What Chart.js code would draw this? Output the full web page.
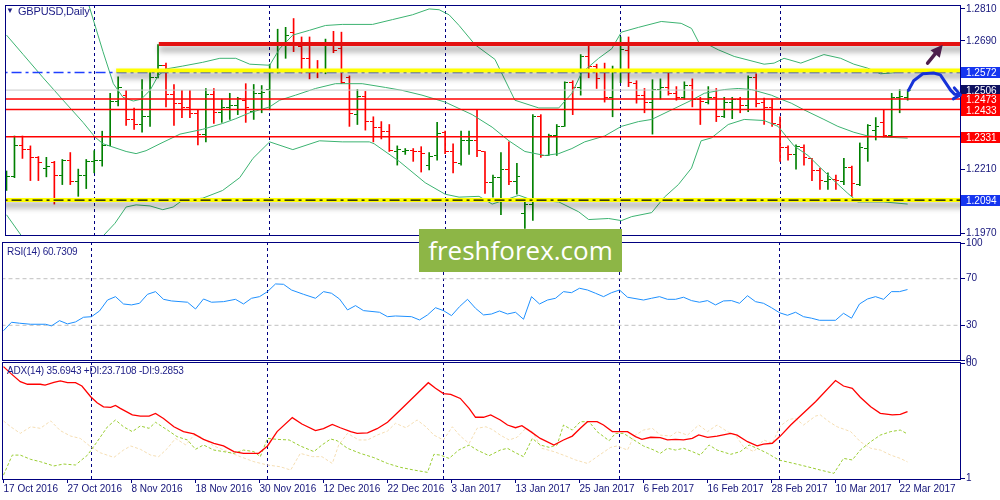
<!DOCTYPE html>
<html><head><meta charset="utf-8">
<script src="https://cdn.jsdelivr.net/npm/chart.js@4.4.1/dist/chart.umd.min.js"></script>
<style>
html,body{margin:0;padding:0;background:#fff;}
#wrap{position:relative;width:1000px;height:500px;overflow:hidden;background:#fff;}
#wrap canvas{position:absolute;left:0;}
.t{position:absolute;font-family:"Liberation Sans",Arial,sans-serif;font-size:10px;color:#1c1c86;white-space:nowrap;line-height:12px;letter-spacing:-0.2px;}
#wm{position:absolute;left:419px;top:229px;width:203px;height:43px;background:#8db646;color:#fff;font-family:"Open Sans",sans-serif;font-size:26px;line-height:42px;text-align:center;}
</style></head><body>
<div id="wrap">
<canvas id="cMain" width="1000" height="241" style="top:0px"></canvas>
<canvas id="cRsi" width="1000" height="126" style="top:236px"></canvas>
<canvas id="cAdx" width="1000" height="144" style="top:356px"></canvas>
<div class="t" style="left:6px;top:5px;font-size:8px">▼</div>
<div class="t" style="left:18px;top:5px;font-size:11px">GBPUSD,Daily</div>
<div class="t" style="left:7px;top:246px">RSI(14) 60.7309</div>
<div class="t" style="left:7px;top:365px">ADX(14) 35.6943 +DI:23.7108 -DI:9.2853</div>
<div id="wm">freshforex.com</div>
</div>
<script>
// ---------- data ----------
const dateTickIdx=[0,8,16,24,32,40,48,56,64,72,80,88,96,104,112];
const dateLabels=["17 Oct 2016","27 Oct 2016","8 Nov 2016","18 Nov 2016","30 Nov 2016","12 Dec 2016","22 Dec 2016","3 Jan 2017","13 Jan 2017","25 Jan 2017","6 Feb 2017","16 Feb 2017","28 Feb 2017","10 Mar 2017","22 Mar 2017"];
const monthSepIdx=[11,33,55,77,97];
const priceTicks=[1.2810,1.2690,1.2210,1.1970];
const rsiTicks=[0,30,70,100];
const adxTicks=[1,60];

const opens=[1.2174,1.2181,1.2297,1.2283,1.2254,1.2214,1.2236,1.2185,1.2243,1.2163,
1.2185,1.2239,1.2243,1.2297,1.2465,1.2487,1.2396,1.2377,1.2406,1.2552,
1.2599,1.2490,1.2454,1.2439,1.2417,1.2341,1.2490,1.2421,1.2439,1.2447,
1.2468,1.2425,1.2494,1.2508,1.2577,1.2672,1.2723,1.2668,1.2625,1.2581,
1.2577,1.2672,1.2661,1.2552,1.2414,1.2483,1.2388,1.2367,1.2352,1.2276,
1.2276,1.2279,1.2276,1.2225,1.2261,1.2348,1.2276,1.2232,1.2316,1.2319,
1.2276,1.2159,1.2178,1.2210,1.2163,1.2043,1.2079,1.2406,1.2261,1.2334,
1.2370,1.2534,1.2516,1.2632,1.2596,1.2577,1.2479,1.2577,1.2654,1.2530,
1.2487,1.2461,1.2508,1.2516,1.2494,1.2479,1.2523,1.2472,1.2461,1.2479,
1.2406,1.2461,1.2472,1.2450,1.2552,1.2461,1.2439,1.2377,1.2290,1.2265,
1.2290,1.2250,1.2203,1.2163,1.2170,1.2163,1.2217,1.2152,1.2287,1.2356,
1.2385,1.2334,1.2479,1.2479];
const highs=[1.2203,1.2334,1.2334,1.2297,1.2257,1.2254,1.2239,1.2246,1.2272,1.2210,
1.2246,1.2279,1.2352,1.2494,1.2556,1.2505,1.2439,1.2545,1.2581,1.2676,
1.2607,1.2527,1.2505,1.2505,1.2432,1.2512,1.2512,1.2472,1.2494,1.2479,
1.2530,1.2527,1.2523,1.2603,1.2734,1.2741,1.2774,1.2705,1.2705,1.2617,
1.2697,1.2726,1.2723,1.2559,1.2508,1.2501,1.2406,1.2388,1.2377,1.2297,
1.2287,1.2287,1.2294,1.2272,1.2385,1.2352,1.2305,1.2352,1.2352,1.2432,
1.2276,1.2188,1.2272,1.2312,1.2232,1.2097,1.2414,1.2414,1.2341,1.2377,
1.2537,1.2541,1.2639,1.2676,1.2603,1.2607,1.2596,1.2705,1.2705,1.2541,
1.2512,1.2545,1.2548,1.2581,1.2519,1.2537,1.2548,1.2479,1.2519,1.2512,
1.2479,1.2479,1.2479,1.2559,1.2567,1.2476,1.2472,1.2406,1.2297,1.2301,
1.2301,1.2250,1.2214,1.2196,1.2188,1.2250,1.2221,1.2308,1.2377,1.2403,
1.2432,1.2494,1.2508,1.2508];
const lows=[1.2130,1.2178,1.2250,1.2167,1.2167,1.2181,1.2079,1.2152,1.2152,1.2108,
1.2137,1.2196,1.2221,1.2297,1.2447,1.2374,1.2359,1.2348,1.2370,1.2552,
1.2443,1.2374,1.2403,1.2403,1.2301,1.2312,1.2381,1.2385,1.2396,1.2414,
1.2385,1.2396,1.2421,1.2432,1.2570,1.2625,1.2650,1.2570,1.2548,1.2552,
1.2567,1.2646,1.2530,1.2370,1.2377,1.2356,1.2312,1.2323,1.2276,1.2225,
1.2265,1.2239,1.2199,1.2207,1.2243,1.2268,1.2196,1.2225,1.2265,1.2257,
1.2119,1.2105,1.2039,1.2152,1.2116,1.1988,1.2018,1.2254,1.2261,1.2261,
1.2370,1.2414,1.2487,1.2552,1.2512,1.2461,1.2406,1.2534,1.2519,1.2457,
1.2421,1.2341,1.2472,1.2487,1.2468,1.2472,1.2443,1.2377,1.2454,1.2388,
1.2403,1.2399,1.2421,1.2425,1.2443,1.2377,1.2370,1.2239,1.2243,1.2210,
1.2225,1.2167,1.2134,1.2134,1.2134,1.2152,1.2108,1.2148,1.2239,1.2319,
1.2330,1.2330,1.2421,1.2468];
const closes=[1.2181,1.2297,1.2283,1.2254,1.2236,1.2221,1.2185,1.2243,1.2163,1.2185,
1.2239,1.2243,1.2297,1.2465,1.2516,1.2396,1.2377,1.2406,1.2552,1.2599,
1.2490,1.2454,1.2439,1.2417,1.2341,1.2490,1.2421,1.2439,1.2447,1.2476,
1.2439,1.2494,1.2497,1.2577,1.2672,1.2712,1.2679,1.2625,1.2581,1.2577,
1.2676,1.2654,1.2534,1.2417,1.2483,1.2388,1.2367,1.2352,1.2279,1.2283,
1.2279,1.2276,1.2268,1.2257,1.2345,1.2276,1.2236,1.2316,1.2319,1.2279,
1.2159,1.2178,1.2210,1.2163,1.2181,1.2079,1.2406,1.2261,1.2334,1.2370,
1.2534,1.2516,1.2632,1.2596,1.2548,1.2479,1.2574,1.2657,1.2534,1.2487,
1.2461,1.2508,1.2516,1.2494,1.2479,1.2523,1.2472,1.2465,1.2479,1.2406,
1.2461,1.2472,1.2447,1.2552,1.2454,1.2439,1.2381,1.2290,1.2265,1.2294,
1.2254,1.2203,1.2167,1.2170,1.2167,1.2217,1.2156,1.2290,1.2374,1.2370,
1.2334,1.2479,1.2483,1.2506];

const bbUpIdx=[9.5,10.25,12.1,13.4,14.6,15.9,16.9,18.0,19.0,20.0,22.1,24.6,26.75,28.75,30.5,33.0,34.25,35.9,38.0,40.0,42.1,45.9,48.4,50.9,53.0,54.25,55.5,56.75,58.75,61.25,63.75,66.75,69.25,70.9,72.1,74.25,75.9,77.1,79.25,82.1,84.6,85.9,86.9,88.0,89.25,91.25,95.0,96.25,97.5,99.6,102.5,104.6,106.25,108.0,109.6,110.9,113.0];
const bbUpVal=[1.2905,1.2832,1.2650,1.2530,1.2479,1.2465,1.2472,1.2505,1.2559,1.2585,1.2596,1.2610,1.2625,1.2625,1.2603,1.2599,1.2661,1.2712,1.2730,1.2748,1.2752,1.2752,1.2770,1.2788,1.2810,1.2807,1.2788,1.2748,1.2676,1.2621,1.2468,1.2439,1.2439,1.2494,1.2570,1.2625,1.2661,1.2723,1.2741,1.2763,1.2756,1.2737,1.2679,1.2676,1.2657,1.2632,1.2603,1.2607,1.2625,1.2607,1.2639,1.2625,1.2603,1.2588,1.2567,1.2570,1.2577];
const bbMidIdx=[0,2.1,4.6,7.1,9.6,11.1,12.1,15.0,16.25,17.5,19.25,21.75,24.6,27.1,28.75,30.5,33.0,34.25,36.25,38.75,41.25,43.0,44.6,47.5,49.6,52.1,55.0,58.4,60.9,63.0,65.0,67.5,69.25,70.9,72.5,75.0,77.1,79.25,80.9,83.4,85.9,87.5,90.0,91.75,93.4,95.9,97.1,98.4,100.0,102.5,104.25,106.25,108.0,110.0,113.0];
const bbMidVal=[1.2712,1.2639,1.2552,1.2468,1.2385,1.2330,1.2305,1.2276,1.2268,1.2279,1.2305,1.2341,1.2359,1.2381,1.2399,1.2421,1.2443,1.2468,1.2487,1.2512,1.2530,1.2530,1.2530,1.2516,1.2505,1.2487,1.2461,1.2414,1.2367,1.2316,1.2276,1.2261,1.2268,1.2287,1.2312,1.2334,1.2370,1.2388,1.2396,1.2432,1.2468,1.2494,1.2508,1.2512,1.2508,1.2487,1.2472,1.2457,1.2432,1.2396,1.2370,1.2348,1.2334,1.2330,1.2326];
const bbLowIdx=[0,1.9,7.1,12.1,13.6,15.0,16.25,18.0,19.6,20.9,22.1,24.6,27.1,29.25,30.9,33.0,35.9,39.25,42.1,45.5,46.1,49.25,52.5,55.0,56.75,59.25,60.9,62.5,64.25,65.9,69.25,71.75,73.0,75.5,77.1,78.4,80.9,82.5,84.25,85.9,87.1,88.4,90.5,92.5,95.0,96.75,98.75,100.5,102.1,103.75,105.5,106.75,110.0,113.0];
const bbLowVal=[1.2039,1.1959,1.1741,1.1959,1.2007,1.2068,1.2076,1.2072,1.2058,1.2068,1.2094,1.2101,1.2130,1.2178,1.2250,1.2312,1.2283,1.2316,1.2312,1.2312,1.2305,1.2239,1.2159,1.2116,1.2105,1.2108,1.2079,1.2094,1.2112,1.2094,1.2087,1.2050,1.2021,1.2025,1.2017,1.2032,1.2047,1.2105,1.2152,1.2214,1.2316,1.2327,1.2377,1.2396,1.2392,1.2370,1.2297,1.2261,1.2214,1.2167,1.2119,1.2087,1.2087,1.2079];

const rsiIdx=[0,1,2,3.4,5.25,6,7,8,9,10,11,12,13,14,15,16,17,18,19,20,21,23,24,25,26,27.5,29,30,31,32,33,34,35,36,37.5,39,40,41,42,43,44,45,47,48,49,51,52,53,54,55,56,57,58,59,60,61,62,63,64,65,66,67,68,69,70,71,72,73,74,75,76,77,78,80,81,82,83,84,85,86,87,88,89,90,91,92,93,94,95,96,97,98,99,100,101,102,104,105,106,107,108,109,110,111,112,113];
const rsiVal=[25.4,32.6,31.8,30.9,30.9,29.5,34,31.2,32.9,36.9,37.4,42.3,51.7,54.6,48.3,47.5,48.9,56.6,58.9,52.3,50.9,49.8,44,52.6,49.8,50.3,52.3,48.3,53.2,54.6,58.9,65.5,65.2,60.3,56.6,53.2,58.9,57.5,52.6,43.2,46.9,42.6,41.2,37.4,38,37.4,34.6,38.9,45.1,42.6,38.3,46,52.3,44.6,38.9,39.7,42.3,39.7,41.2,35.2,54.6,48.3,51.7,53.2,58.9,58,61.8,60.3,57.5,54.6,58,60.3,54.1,51.7,53.2,54.6,52.3,52.3,54.1,51.2,49.8,51.2,47.5,50.9,51.2,48.9,55.4,50.3,48.9,45.1,40.8,38.6,41.2,37.4,36.1,34.3,34.3,40.3,36.1,48.3,52.6,54.6,52.3,58.9,58.9,60.7];

const adxIdx=[0,0.9,2.1,3.0,4.6,5.2,6.3,7.1,8.0,9.0,9.8,10.9,11.7,12.5,13.4,14.0,14.6,16.1,17.1,18.2,19.0,20.0,21.3,22.5,23.8,25.0,26.3,27.5,28.8,30.0,31.9,33.0,34.2,36.1,37.3,39.0,40.0,41.1,42.1,43.4,44.2,45.5,46.7,48.0,49.6,51.3,53.1,54.0,55.0,55.9,57.1,58.2,59.0,60.0,60.9,62.1,63.0,64.0,64.8,65.9,67.1,68.8,70.0,71.1,72.1,73.0,74.2,75.0,76.1,77.1,78.0,79.0,79.8,80.9,82.1,83.0,84.0,85.0,86.1,86.9,88.0,89.2,90.9,91.7,93.0,94.2,95.0,96.1,97.1,98.4,101.5,104.0,105.0,106.1,107.1,108.4,109.6,111.1,112.1,113.0];
const adxVal=[58.4,54.9,50.6,49.3,49.3,48.9,50.3,51.0,50.1,50.1,48.4,42.9,39.8,37.7,37.4,38.4,36.9,33.5,32.9,32.9,34.3,31.7,27.4,24.9,23.7,20.9,18.9,17.5,14.6,13.7,13.7,17.5,24.9,32.1,28.8,25.4,26.4,28.6,26.9,24.9,24.0,24.3,26.4,29.7,36.0,42.9,50.1,47.2,44.5,44.1,42.0,36.9,32.3,32.3,33.5,30.9,28.3,26.9,28.0,24.9,21.4,18.0,20.6,22.6,26.6,30.0,30.0,28.3,24.9,24.9,24.9,22.3,20.9,22.0,21.8,20.6,20.9,20.6,21.4,23.2,21.9,22.6,24.0,23.1,19.7,17.6,18.5,18.9,22.6,28.3,40.3,51.2,48.4,47.2,42.6,37.7,34.3,33.5,33.8,35.2];
const pdiIdx=[0,1.1,2.1,3.4,4.6,6.3,7.5,9.0,10.5,11.7,13.0,14.0,15.0,16.1,17.1,18.2,19.0,20.5,21.7,23.0,24.0,25.0,26.3,27.5,28.8,30.0,31.3,32.1,33.0,34.2,35.7,37.1,38.8,39.8,40.9,41.7,43.0,44.6,46.3,48.0,49.6,51.3,53.0,53.8,54.6,55.7,56.9,58.2,59.2,60.7,62.1,63.0,64.0,65.0,66.1,67.1,68.2,69.2,70.0,71.1,72.1,73.2,74.2,75.7,76.5,77.5,78.8,80.0,81.3,82.1,83.0,84.0,85.0,86.1,87.1,88.2,89.2,90.9,92.1,93.2,94.2,95.5,96.9,98.8,100.5,102.1,103.8,105.0,106.1,107.1,108.4,109.6,110.9,112.1,113.0];
const pdiVal=[2.5,12.8,12.8,10.6,9.4,7.2,8.2,7.7,12.8,19.7,27.4,30.9,27.4,24.9,27.8,26.6,29.7,25.7,22.3,20.6,15.8,18.0,15.4,14.6,13.7,15.4,14.6,12.0,21.4,20.9,20.6,17.5,14.6,18.0,21.1,20.2,16.3,13.7,11.5,8.5,6.5,5.1,3.9,13.2,12.8,11.1,15.4,18.0,15.4,12.5,15.4,16.3,14.0,12.0,21.4,18.0,16.8,18.0,28.3,25.7,30.0,30.0,24.9,20.2,24.0,24.0,20.6,17.5,15.4,13.7,16.3,15.4,16.3,14.6,12.8,18.0,15.4,13.2,14.6,18.0,16.3,13.7,10.3,8.5,6.8,5.1,3.4,11.1,10.3,15.4,19.7,23.1,24.9,25.7,23.7];
const mdiIdx=[0,0.9,2.1,3.4,4.6,5.9,7.1,8.4,9.6,10.9,12.1,13.8,15.0,15.9,17.1,18.4,19.4,20.5,21.5,22.8,23.8,24.6,26.3,28.0,29.6,31.3,33.0,34.6,35.9,37.1,38.6,39.8,41.1,41.9,43.0,44.4,45.5,46.7,48.0,49.0,50.3,51.7,52.8,53.8,55.0,56.1,57.1,58.2,59.2,60.3,61.1,62.1,63.2,64.2,65.3,66.1,67.3,68.8,70.5,71.5,73.0,74.2,75.9,76.7,78.0,78.8,80.0,81.1,82.1,83.4,84.2,85.5,86.9,88.0,89.2,90.5,91.5,92.5,93.8,95.0,96.1,97.1,98.2,99.0,100.0,101.5,102.1,103.2,104.2,105.9,107.1,108.4,109.6,110.9,112.1,113.0];
const mdiVal=[30.4,27.4,24.0,27.4,26.6,30.4,25.4,22.6,21.4,17.1,14.0,11.6,15.4,17.5,15.8,12.8,12.0,16.3,21.4,18.0,23.1,22.3,17.5,14.6,12.0,9.4,7.7,6.8,5.1,13.7,12.0,12.0,8.5,18.0,24.0,20.6,20.6,23.1,25.2,29.2,26.9,30.9,27.4,23.1,20.6,27.4,22.6,18.8,26.6,27.4,26.0,23.1,20.6,22.0,26.6,24.9,16.3,14.6,12.0,10.3,8.5,12.0,16.8,17.5,15.4,22.6,25.7,26.6,23.1,22.6,24.9,23.1,28.3,24.9,28.3,24.9,23.1,17.1,14.6,20.6,18.9,27.8,31.2,31.7,28.3,32.9,33.5,30.0,27.4,24.9,19.7,16.3,15.4,12.8,11.1,9.3];

// drawn levels (price) and their start bar
const levelResist=1.2679, levelResistStart=19.1;
const levelYellowHi=1.2579, levelYellowHiStart=13.75;
const levelBlue=1.2572;
const levelBid=1.2506;
const levelThin=[1.2473,1.2433,1.2331];
const levelYellowLo=1.2094;
const priceBoxes=[
 {v:1.2572,t:'1.2572',bg:'#1535f0'},
 {v:1.2506,t:'1.2506',bg:'#0d1060'},
 {v:1.2473,t:'1.2473',bg:'#ff0000'},
 {v:1.2433,t:'1.2433',bg:'#ff0000'},
 {v:1.2331,t:'1.2331',bg:'#ff0000'},
 {v:1.2094,t:'1.2094',bg:'#1535f0'}];
const arrowFrom=[115.5,1.2607], arrowTo=[117.4,1.2676];
const curveIdx=[113.1,113.75,114.9,116.25,117.1,117.75,118.4,118.9,119.6];
const curveVal=[1.2505,1.2541,1.2567,1.2570,1.2563,1.2534,1.2505,1.2490,1.2488];

// ---------- setup ----------
const X_MIN=-0.1875, X_MAX=119.6875;
const NAVY='#000080', LBL='#14147a';
const FONT={family:'"Liberation Sans", Arial, sans-serif', size:10};
const UP='#008000', DN='#ff0000';

function tickImg(color, side){const c=document.createElement('canvas');c.width=7;c.height=1;const g=c.getContext('2d');g.fillStyle=color;if(side==='L')g.fillRect(0,0,3,1);else g.fillRect(4,0,3,1);return c;}
const imgs={LU:tickImg(UP,'L'),LD:tickImg(DN,'L'),RU:tickImg(UP,'R'),RD:tickImg(DN,'R')};
const isUp=i=>closes[i]>=opens[i];

function hline(v,x0,x1,color,width,extra){return Object.assign({type:'line',data:[{x:x0,y:v},{x:x1,y:v}],borderColor:color,borderWidth:width,pointRadius:0,fill:false},extra||{});}
function series(idx,val,color,width,extra){return Object.assign({type:'line',data:idx.map((x,i)=>({x:x,y:val[i]})),borderColor:color,borderWidth:width,pointRadius:0,fill:false,tension:0},extra||{});}

const framePlugin={id:'frame',
 beforeDatasetsDraw(chart){const {ctx,chartArea:a,scales:{x}}=chart;ctx.save();ctx.beginPath();ctx.rect(a.left,a.top,a.right-a.left,a.bottom-a.top);ctx.clip();ctx.strokeStyle=NAVY;ctx.lineWidth=1;ctx.setLineDash([3,3]);
  monthSepIdx.forEach(i=>{const px=Math.floor(x.getPixelForValue(i))+0.5;ctx.beginPath();ctx.moveTo(px,a.top);ctx.lineTo(px,a.bottom);ctx.stroke();});ctx.restore();},
 afterDraw(chart){const {ctx,chartArea:a}=chart;ctx.save();ctx.strokeStyle=NAVY;ctx.lineWidth=1;ctx.strokeRect(a.left+0.5,a.top+0.5,a.right-a.left-1,a.bottom-a.top-1);ctx.restore();}
};
const shadowPlugin={id:'shadow',
 beforeDatasetDraw(chart,args){const ds=chart.data.datasets[args.index];if(ds.shadow){const c=chart.ctx;c.save();c.shadowColor='rgba(0,0,0,0.45)';c.shadowBlur=6;c.shadowOffsetY=5;}},
 afterDatasetDraw(chart,args){const ds=chart.data.datasets[args.index];if(ds.shadow){chart.ctx.restore();}}
};
const mainOverlay={id:'mainOverlay',
 afterDraw(chart){const {ctx,scales:{x,y}}=chart;ctx.save();
  ctx.font='10px "Liberation Sans", Arial, sans-serif';ctx.textBaseline='middle';ctx.textAlign='left';
  priceBoxes.forEach(b=>{const py=Math.round(y.getPixelForValue(b.v));ctx.fillStyle=b.bg;ctx.fillRect(961,py-5,39,11);ctx.fillStyle='#fff';ctx.fillText(b.t,966,py+1);});
  // purple arrow
  const x0=x.getPixelForValue(arrowFrom[0]),y0=y.getPixelForValue(arrowFrom[1]),x1=x.getPixelForValue(arrowTo[0]),y1=y.getPixelForValue(arrowTo[1]);
  const ang=Math.atan2(y1-y0,x1-x0);const hl=12,hw=6;const bx=x1-hl*Math.cos(ang),by=y1-hl*Math.sin(ang);
  ctx.strokeStyle='#4d1f4d';ctx.fillStyle='#4d1f4d';ctx.lineWidth=3.5;ctx.lineCap='round';
  ctx.beginPath();ctx.moveTo(x0,y0);ctx.lineTo(bx,by);ctx.stroke();
  ctx.beginPath();ctx.moveTo(x1,y1);ctx.lineTo(bx+hw*Math.sin(ang),by-hw*Math.cos(ang));ctx.lineTo(bx-hw*Math.sin(ang),by+hw*Math.cos(ang));ctx.closePath();ctx.fill();
  // blue curve
  ctx.strokeStyle='#1632d8';ctx.lineWidth=3;ctx.lineJoin='round';ctx.lineCap='round';
  ctx.beginPath();curveIdx.forEach((v,i)=>{const px=x.getPixelForValue(v),py=y.getPixelForValue(curveVal[i]);if(i===0)ctx.moveTo(px,py);else ctx.lineTo(px,py);});ctx.stroke();
  const n=curveIdx.length;const ex=x.getPixelForValue(curveIdx[n-1]),ey=y.getPixelForValue(curveVal[n-1]);
  ctx.beginPath();ctx.moveTo(ex-6,ey-7);ctx.lineTo(ex,ey);ctx.lineTo(ex-7,ey+4);ctx.stroke();
  ctx.restore();}
};

function xAxisHidden(){return {type:'linear',min:X_MIN,max:X_MAX,display:false,offset:false,grid:{offset:false}};}
function yAxis(min,max,ticks,fmt){return {type:'linear',position:'right',min:min,max:max,
  afterFit(s){s.width=39;s.paddingTop=0;s.paddingBottom=0;},
  afterBuildTicks(s){s.ticks=ticks.map(v=>({value:v}));},
  ticks:{callback:fmt,font:FONT,color:LBL,padding:1,autoSkip:false},
  grid:{drawOnChartArea:false,drawTicks:true,tickLength:4,color:NAVY},
  border:{display:false}};}
const baseOpts={responsive:false,animation:false,devicePixelRatio:1,events:[],plugins:{legend:{display:false},tooltip:{enabled:false}}};

// ---------- main price chart ----------
const mainDatasets=[
 hline(levelResist,levelResistStart,130,'#e41010',4,{shadow:true,order:1}),
 hline(levelYellowLo,-2,130,'#000000',1.2,{borderDash:[10,4,3,4],order:1.5}),
 hline(levelYellowHi,levelYellowHiStart,130,'#ffff00',4,{shadow:true,order:2}),
 hline(levelYellowLo,-2,130,'#ffff00',4,{shadow:true,order:2}),
 hline(levelBlue,-2,130,'#1f3fff',1.5,{borderDash:[10,4,3,4],order:3}),
 ...levelThin.map(v=>hline(v,-2,130,'#ff0000',1.5,{order:4})),
 hline(levelBid,-2,130,'#c8c8c8',1,{order:5}),
 series(bbUpIdx,bbUpVal,'#3cb371',1,{order:6}),
 series(bbMidIdx,bbMidVal,'#3cb371',1,{order:6}),
 series(bbLowIdx,bbLowVal,'#3cb371',1,{order:6}),
 {type:'line',showLine:false,data:opens.map((o,i)=>({x:i,y:o})),pointStyle:c=>isUp(c.dataIndex)?imgs.LU:imgs.LD,pointRadius:3,order:7},
 {type:'line',showLine:false,data:closes.map((o,i)=>({x:i,y:o})),pointStyle:c=>isUp(c.dataIndex)?imgs.RU:imgs.RD,pointRadius:3,order:7},
 {type:'bar',data:highs.map((h,i)=>({x:i,y:[lows[i],h]})),backgroundColor:highs.map((h,i)=>isUp(i)?UP:DN),barThickness:1,borderWidth:0,order:8}
];
new Chart(document.getElementById('cMain'),{type:'line',data:{datasets:mainDatasets},
 options:Object.assign({},baseOpts,{layout:{padding:{left:2,right:0,top:2,bottom:1}},
  scales:{x:xAxisHidden(),
   y:yAxis(1.19594,1.28247,priceTicks,v=>v.toFixed(4))}}),
 plugins:[framePlugin,shadowPlugin,mainOverlay]});

// ---------- RSI ----------
new Chart(document.getElementById('cRsi'),{type:'line',data:{datasets:[
  series(rsiIdx,rsiVal,'#1e90ff',1,{order:1}),
  hline(70,-2,130,'#c0c0c0',1,{borderDash:[4,3],order:2}),
  hline(30,-2,130,'#c0c0c0',1,{borderDash:[4,3],order:2})]},
 options:Object.assign({},baseOpts,{layout:{padding:{left:2,right:0,top:6,bottom:1}},
  scales:{x:xAxisHidden(),
   y:yAxis(-0.64,101.5,rsiTicks,v=>String(v))}}),
 plugins:[framePlugin]});

// ---------- ADX ----------
new Chart(document.getElementById('cAdx'),{type:'line',data:{datasets:[
  series(adxIdx,adxVal,'#ff0000',1.3,{order:1}),
  series(pdiIdx,pdiVal,'#9acd32',1,{borderDash:[3,2],order:2}),
  series(mdiIdx,mdiVal,'#f5deb3',1,{borderDash:[3,2],order:3})]},
 options:Object.assign({},baseOpts,{layout:{padding:{left:2,right:0,top:6,bottom:0}},
  scales:{x:{type:'linear',min:X_MIN,max:X_MAX,position:'bottom',offset:false,
    afterFit(s){s.height=20;s.paddingLeft=0;s.paddingRight=0;},
    afterBuildTicks(s){s.ticks=dateTickIdx.map(v=>({value:v}));},
    ticks:{callback:v=>dateLabels[dateTickIdx.indexOf(v)],autoSkip:false,maxRotation:0,minRotation:0,align:'start',padding:0,font:FONT,color:LBL},
    grid:{drawOnChartArea:false,drawTicks:true,tickLength:3,color:NAVY,offset:false},border:{display:false}},
   y:yAxis(-0.03,60.77,adxTicks,v=>String(v))}}),
 plugins:[framePlugin]});
</script>
</body></html>
